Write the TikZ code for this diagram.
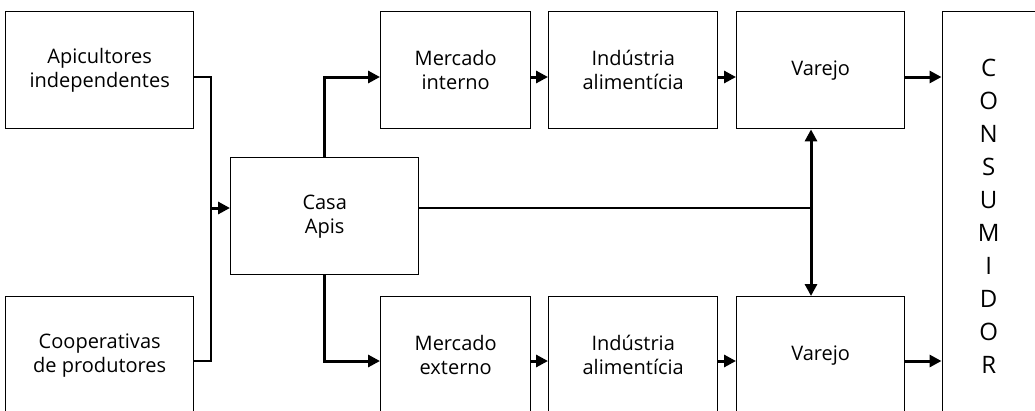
\documentclass[tikz,border=0pt]{standalone}
\usepackage{fontspec}
\setmainfont{Open Sans}
\usetikzlibrary{arrows.meta}
\begin{document}
\begin{tikzpicture}[x=1pt,y=-1pt,
  box/.style={draw,line width=1.4pt,minimum width=#1,minimum height=117pt,
    inner sep=0pt,align=center,anchor=north west,font=\fontsize{20}{24}\selectfont},
  box/.default=188pt,
  thinline/.style={line width=1.4pt},
  thickline/.style={line width=3pt},
  tip/.style={-{Triangle[length=12pt,width=12pt]}},
  dtip/.style={{Triangle[length=12pt,width=12pt]}-{Triangle[length=12pt,width=12pt]}}]
\clip (0,0) rectangle (1035,410);
\fill[white] (0,0) rectangle (1035,410);
% nodes
\node[box] (api) at (5,11) {Apicultores\\independentes};
\node[box] (coop) at (5,296) {Cooperativas\\de produtores};
\node[box] (casa) at (230,157) {Casa\\Apis};
\node[box=150pt] (mi) at (380,11) {Mercado\\interno};
\node[box=169pt] (ia) at (548,11) {Indústria\\alimentícia};
\node[box=168pt] (vt) at (736,11) {\raisebox{-3pt}{Varejo}};
\node[box=150pt] (me) at (380,296) {Mercado\\externo};
\node[box=169pt] (ib) at (548,296) {Indústria\\alimentícia};
\node[box=168pt] (vb) at (736,296) {\raisebox{4pt}{Varejo}};
\node[box=93pt,minimum height=402pt] (cons) at (941.5,11) {};
\node[font=\fontsize{24}{33}\selectfont,align=center,inner sep=0pt] (constext) at ([yshift=-4pt]cons.center)
  {C\\O\\N\\S\\U\\M\\I\\D\\O\\R};
% junctions
\coordinate (jl) at (211,208);
\coordinate (jr) at (811,208);
% connectors
\draw[thinline] ([yshift=-66pt]api.north east) -| (jl) |- ([yshift=-65pt]coop.north east);
\draw[thickline,tip] (jl) -- (jl -| casa.west);
\draw[thickline,tip] (casa.north) |- ([yshift=-66pt]mi.north west);
\draw[thickline,tip] (casa.south) |- ([yshift=-65pt]me.north west);
\draw[thickline,tip] ([yshift=-66pt]mi.north east) -- ([yshift=-66pt]ia.north west);
\draw[thickline,tip] ([yshift=-66pt]ia.north east) -- ([yshift=-66pt]vt.north west);
\draw[thickline,tip] ([yshift=-66pt]vt.north east) -- ([yshift=-66pt]vt.north east -| cons.west);
\draw[thickline,tip] ([yshift=-65pt]me.north east) -- ([yshift=-65pt]ib.north west);
\draw[thickline,tip] ([yshift=-65pt]ib.north east) -- ([yshift=-65pt]vb.north west);
\draw[thickline,tip] ([yshift=-65pt]vb.north east) -- ([yshift=-65pt]vb.north east -| cons.west);
\draw[thinline] (jr -| casa.east) -- (jr);
\draw[thickline,dtip] (jr |- vt.south) -- (jr |- vb.north);
\end{tikzpicture}
\end{document}
